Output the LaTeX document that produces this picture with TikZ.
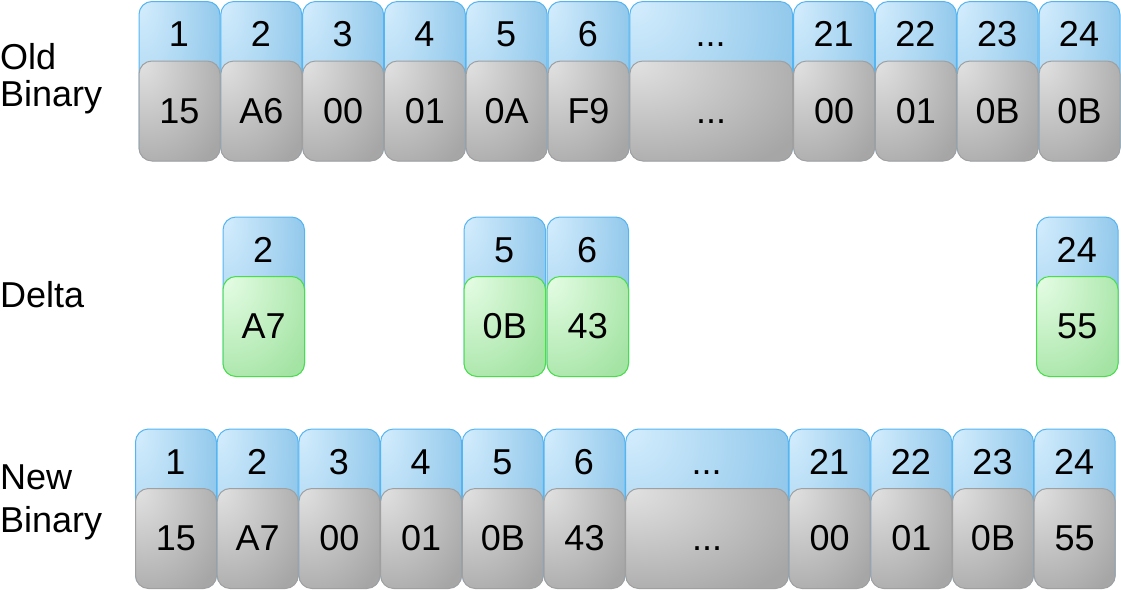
\documentclass[tikz,border=0pt]{standalone}
\usepackage{fontspec}
\setmainfont{Liberation Sans}
\usetikzlibrary{calc}
\definecolor{blueL}{HTML}{D4EDFD}
\definecolor{blueD}{HTML}{8EC6EA}
\definecolor{blueB}{HTML}{55B5F3}
\definecolor{grayL}{HTML}{E2E2E2}
\definecolor{grayD}{HTML}{A6A6A6}
\definecolor{grayB}{HTML}{A0A0A0}
\definecolor{greenL}{HTML}{E6FDE6}
\definecolor{greenD}{HTML}{A3E3A3}
\definecolor{greenB}{HTML}{48DE48}
\pgfdeclareradialshading{bluesh}{\pgfpoint{-25bp}{25bp}}{color(0bp)=(blueL); color(45bp)=(blueD); color(130bp)=(blueD)}
\pgfdeclareradialshading{graysh}{\pgfpoint{-25bp}{25bp}}{color(0bp)=(grayL); color(50bp)=(grayD); color(130bp)=(grayD)}
\pgfdeclareradialshading{greensh}{\pgfpoint{-25bp}{25bp}}{color(0bp)=(greenL); color(50bp)=(greenD); color(130bp)=(greenD)}
\tikzset{
  idbox/.style={draw=blueB, line width=1pt, rounded corners=13pt, shading=bluesh, minimum height=159pt, inner sep=0pt, anchor=north west},
  oldval/.style={draw=grayB, line width=1pt, rounded corners=13pt, shading=graysh, minimum height=100pt, inner sep=0pt, anchor=north west},
  newval/.style={draw=greenB, line width=1pt, rounded corners=13pt, shading=greensh, minimum height=100pt, inner sep=0pt, anchor=north west},
  celltext/.style={inner sep=0pt, text=black},
  rowlabel/.style={inner sep=0pt, anchor=west, align=left}
}
% #1 name, #2 left x, #3 width, #4 top y, #5 number, #6 value, #7 value style
\newcommand\mkcell[7]{%
  \node[idbox, minimum width=#3pt] (#1id) at (#2,#4) {};
  \node[#7, minimum width=#3pt] (#1val) at (#2,{#4+59.5}) {\vphantom{0}#6};
  \node[celltext] (#1num) at ({#2+#3/2},{#4+33.5}) {\vphantom{0}#5};
}
\begin{document}
\begin{tikzpicture}[x=1pt,y=-1pt,font=\fontsize{36}{36}\selectfont]
\useasboundingbox (0,0) rectangle (1121,589);
% row labels
\node[rowlabel, font=\fontsize{36}{37}\selectfont] (oldlab) at (0,78.8) {Old\\Binary};
\node[rowlabel] (deltalab) at (0,295) {Delta};
\node[rowlabel, font=\fontsize{36}{43}\selectfont] (newlab) at (0,502) {New\\Binary};
% old binary row
\mkcell{o1}{138.5}{81}{1}{1}{15}{oldval}
\mkcell{o2}{220.3}{81}{1}{2}{A6}{oldval}
\mkcell{o3}{302.1}{81}{1}{3}{00}{oldval}
\mkcell{o4}{383.9}{81}{1}{4}{01}{oldval}
\mkcell{o5}{465.7}{81}{1}{5}{0A}{oldval}
\mkcell{o6}{547.5}{81}{1}{6}{F9}{oldval}
\mkcell{o7}{629.3}{162.8}{1}{...}{...}{oldval}
\mkcell{o21}{793.1}{81}{1}{21}{00}{oldval}
\mkcell{o22}{874.9}{81}{1}{22}{01}{oldval}
\mkcell{o23}{956.7}{81}{1}{23}{0B}{oldval}
\mkcell{o24}{1038.5}{81}{1}{24}{0B}{oldval}
% delta row
\mkcell{d2}{222.5}{81.5}{216.5}{2}{A7}{newval}
\mkcell{d5}{463.5}{81.5}{216.5}{5}{0B}{newval}
\mkcell{d6}{546.5}{81.5}{216.5}{6}{43}{newval}
\mkcell{d24}{1036}{81.5}{216.5}{24}{55}{newval}
% new binary row
\mkcell{n1}{135}{81}{428.5}{1}{15}{oldval}
\mkcell{n2}{216.7}{81}{428.5}{2}{A7}{oldval}
\mkcell{n3}{298.4}{81}{428.5}{3}{00}{oldval}
\mkcell{n4}{380.1}{81}{428.5}{4}{01}{oldval}
\mkcell{n5}{461.8}{81}{428.5}{5}{0B}{oldval}
\mkcell{n6}{543.5}{81}{428.5}{6}{43}{oldval}
\mkcell{n7}{625.2}{162.7}{428.5}{...}{...}{oldval}
\mkcell{n21}{788.6}{81}{428.5}{21}{00}{oldval}
\mkcell{n22}{870.3}{81}{428.5}{22}{01}{oldval}
\mkcell{n23}{952}{81}{428.5}{23}{0B}{oldval}
\mkcell{n24}{1033.7}{81}{428.5}{24}{55}{oldval}
\end{tikzpicture}
\end{document}
